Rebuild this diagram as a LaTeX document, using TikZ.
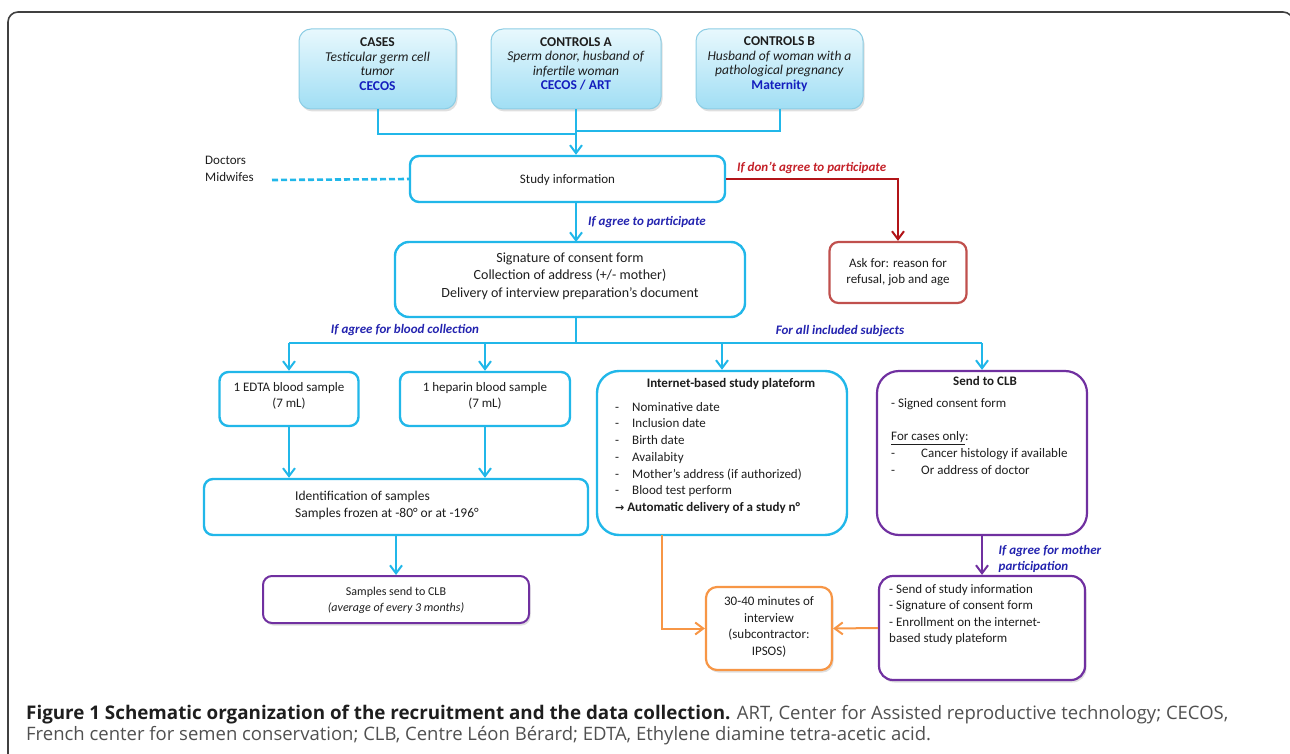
\documentclass[tikz,border=0pt]{standalone}
\usepackage{fontspec}
\setmainfont{Carlito}
\newfontfamily\capfont{Open Sans}
\newfontfamily\symfont{DejaVu Sans}
\usetikzlibrary{arrows.meta,shadows}
\definecolor{cyanl}{RGB}{33,183,233}
\definecolor{topbd}{RGB}{140,205,228}
\definecolor{toptop}{RGB}{232,248,253}
\definecolor{topbot}{RGB}{160,222,244}
\definecolor{lblue}{RGB}{35,35,175}
\definecolor{cblue}{RGB}{20,30,190}
\definecolor{redl}{RGB}{178,20,24}
\definecolor{redt}{RGB}{196,32,40}
\definecolor{redbox}{RGB}{192,80,77}
\definecolor{purp}{RGB}{112,48,160}
\definecolor{orng}{RGB}{247,150,70}
\definecolor{txt}{RGB}{30,30,30}
\definecolor{capgray}{RGB}{80,80,80}
\definecolor{capdark}{RGB}{30,30,30}
\tikzset{
  shad/.style={drop shadow={opacity=0.25,shadow xshift=1.5pt,shadow yshift=-2.5pt}},
  topbox/.style={draw=topbd, line width=1pt, rounded corners=12pt, top color=toptop, bottom color=topbot, shad},
  cbox/.style={draw=cyanl, line width=2.4pt, rounded corners=9pt, fill=white},
  pbox/.style={draw=purp, line width=2.2pt, rounded corners=9pt, fill=white},
  obox/.style={draw=orng, line width=2.2pt, rounded corners=11pt, fill=white, shad},
  rbox/.style={draw=redbox, line width=2.2pt, rounded corners=9pt, fill=white},
  tx/.style={text=txt, font=\fontsize{13}{16.5}\selectfont, inner sep=0pt, align=center},
  txl/.style={tx, align=left},
  ttx/.style={tx, font=\fontsize{13.5}{14.5}\selectfont},
  lab/.style={text=lblue, font=\fontsize{13}{16}\selectfont\bfseries\itshape, inner sep=0pt, align=left},
  cline/.style={draw=cyanl, line width=2pt},
  carr/.style={cline, -{Straight Barb[length=8pt,width=12pt,line width=2pt]}},
  parr/.style={draw=purp, line width=2pt, -{Straight Barb[length=8pt,width=12pt,line width=2pt]}},
  oarr/.style={draw=orng, line width=2pt, -{Straight Barb[length=8pt,width=12pt,line width=2pt]}},
  rarr/.style={draw=redl, line width=2pt, -{Straight Barb[length=8pt,width=12pt,line width=2pt]}},
  capb/.style={anchor=base west, inner sep=0pt, text=capdark, font=\capfont\fontsize{18.8}{20}\selectfont\bfseries},
  capr/.style={anchor=base west, inner sep=0pt, text=capgray, font=\capfont\fontsize{18.5}{20}\selectfont},
}
\begin{document}
\begin{tikzpicture}[x=1pt,y=-1pt]
\useasboundingbox (0,0) rectangle (1290,754);
% frame
\draw[black!75, line width=1.6pt, rounded corners=10pt] (8,780) -- (8,12) -- (1293,12) -- (1293,780);

% top boxes
\node[topbox, minimum width=157pt, minimum height=80pt] (cases) at (377.5,69) {};
\node[ttx] (casest) at (377.5,64) {\textbf{CASES}\\\textit{Testicular germ cell}\\\textit{tumor}\\\textcolor{cblue}{\textbf{CECOS}}};
\node[topbox, minimum width=170pt, minimum height=80pt] (ctrla) at (576,69) {};
\node[ttx] (ctrlat) at (576,64) {\textbf{CONTROLS A}\\\textit{Sperm donor, husband of}\\\textit{infertile woman}\\\textcolor{cblue}{\textbf{CECOS / ART}}};
\node[topbox, minimum width=167pt, minimum height=80pt] (ctrlb) at (779.5,69) {};
\node[ttx] (ctrlbt) at (779.5,64) {\textbf{CONTROLS B}\\\textit{Husband of woman with a}\\\textit{pathological pregnancy}\\\textcolor{cblue}{\textbf{Maternity}}};

% study information
\node[cbox, minimum width=315pt, minimum height=46pt] (study) at (567.5,179) {};
\node[tx] (studyt) at (567.5,180) {Study information};
\node[txl, anchor=west] (doc) at (205,169) {Doctors\\Midwifes};
\coordinate (dstart) at (272,180);
\draw[cyanl, line width=2.6pt, dash pattern=on 6pt off 3pt] (dstart) -- (study.west);

\coordinate (jl) at (377.5,134);
\coordinate (jr) at (779.5,131);
\draw[cline] (cases.south) -- (jl) -- (576,134);
\draw[cline] (ctrlb.south) -- (jr) -- (576,131);
\draw[carr] (ctrla.south) -- (ctrla.south |- study.north);

% refusal
\node[rbox, minimum width=137pt, minimum height=61pt] (ask) at (898,272.5) {};
\node[tx] (askt) at (898,272) {Ask for: reason for\\refusal, job and age};
\draw[rarr] (study.east) -| (ask.north);
\node[lab, text=redt, anchor=west] (nolab) at (737,168) {If don’t agree to participate};

% consent
\node[cbox, minimum width=350pt, minimum height=75pt, rounded corners=14pt] (consent) at (570,279.5) {};
\node[tx, font=\fontsize{14}{17.5}\selectfont] (consentt) at (570,276) {Signature of consent form\\Collection of address (+/- mother)\\Delivery of interview preparation’s document};
\draw[carr] (576,202) -- (576,242);
\node[lab, anchor=west] (agreelab) at (588,222) {If agree to participate};

% branches
\coordinate (bj) at (576,343);
\coordinate (bl) at (289,343);
\coordinate (br) at (982,343);
\draw[cline] (576,317) -- (bj);
\draw[cline] (bl) -- (br);
\node[lab, anchor=center] (bloodlab) at (405,330) {If agree for blood collection};
\node[lab, anchor=center] (alllab) at (840,331) {For all included subjects};

% blood samples
\node[cbox, minimum width=139pt, minimum height=54pt] (edta) at (289,399) {};
\node[tx] (edtat) at (289,396) {1 EDTA blood sample\\(7 mL)};
\node[cbox, minimum width=170pt, minimum height=54pt] (hep) at (485,399) {};
\node[tx] (hept) at (485,396) {1 heparin blood sample\\(7 mL)};
\draw[carr] (bl) -- (edta.north);
\draw[carr] (485,343) -- (hep.north);

\node[cbox, minimum width=384pt, minimum height=56pt] (ident) at (396,507) {};
\node[txl, font=\fontsize{13.5}{17}\selectfont] (identt) at (387,505) {Identification of samples\\Samples frozen at -80° or at -196°};
\draw[carr] (edta.south) -- (edta.south |- ident.north);
\draw[carr] (hep.south) -- (hep.south |- ident.north);

\node[pbox, minimum width=266pt, minimum height=47pt, line width=2pt, shad] (samp) at (396,599.5) {};
\node[tx, font=\fontsize{12}{16}\selectfont] (sampt) at (396,600) {Samples send to CLB\\\textit{(average of every 3 months)}};
\draw[carr] (ident.south) -- (samp.north);

% internet platform
\node[cbox, minimum width=250pt, minimum height=164pt, rounded corners=22pt] (inet) at (722,453) {};
\node[tx] (inett) at (731,384) {\textbf{Internet-based study plateform}};
\node[txl, anchor=north west, font=\fontsize{13}{16.7}\selectfont] (inetl) at (615,402)
 {\makebox[17pt][l]{-}Nominative date\\
  \makebox[17pt][l]{-}Inclusion date\\
  \makebox[17pt][l]{-}Birth date\\
  \makebox[17pt][l]{-}Availabity\\
  \makebox[17pt][l]{-}Mother’s address (if authorized)\\
  \makebox[17pt][l]{-}Blood test perform\\
  \textbf{{\symfont\fontsize{11}{16}\selectfont→} Automatic delivery of a study n°}};
\draw[carr] (722,343) -- (inet.north);

% send to CLB
\node[pbox, minimum width=210pt, minimum height=164pt, rounded corners=22pt] (clb) at (982,453) {};
\node[tx] (clbt) at (985,381) {\textbf{Send to CLB}};
\node[txl, anchor=north west, font=\fontsize{13}{16.7}\selectfont] (clbl) at (891,398)
 {- Signed consent form\\[17pt]
  \underline{For cases only}:\\
  \makebox[30pt][l]{-}Cancer histology if available\\
  \makebox[30pt][l]{-}Or address of doctor};
\draw[carr] (br) -- (clb.north);

% mother
\node[pbox, minimum width=206pt, minimum height=104pt, rounded corners=14pt, shad] (mother) at (982,628) {};
\node[txl, anchor=north west, font=\fontsize{13}{16.5}\selectfont] (mothert) at (889,584)
 {- Send of study information\\- Signature of consent form\\- Enrollment on the internet-\\based study plateform};
\draw[parr] (clb.south) -- (mother.north);
\node[lab] (motherlab) at (1050,559) {If agree for mother\\participation};

% interview
\node[obox, minimum width=126pt, minimum height=83pt] (intv) at (769,628.5) {};
\node[tx] (intvt) at (769,627) {30-40 minutes of\\interview\\(subcontractor:\\IPSOS)};
\coordinate (oc) at (662,535);
\draw[oarr] (oc) |- (intv.west);
\draw[oarr] (mother.west) -- (intv.east);

% caption
\node[capb] (cap1) at (26,719) {Figure 1 Schematic organization of the recruitment and the data collection.};
\node[capr, anchor=base west] (cap1b) at ([xshift=6pt]cap1.base east) {ART, Center for Assisted reproductive technology; CECOS,};
\node[capr] (cap2) at (26,740) {French center for semen conservation; CLB, Centre Léon Bérard; EDTA, Ethylene diamine tetra-acetic acid.};
\end{tikzpicture}
\end{document}
